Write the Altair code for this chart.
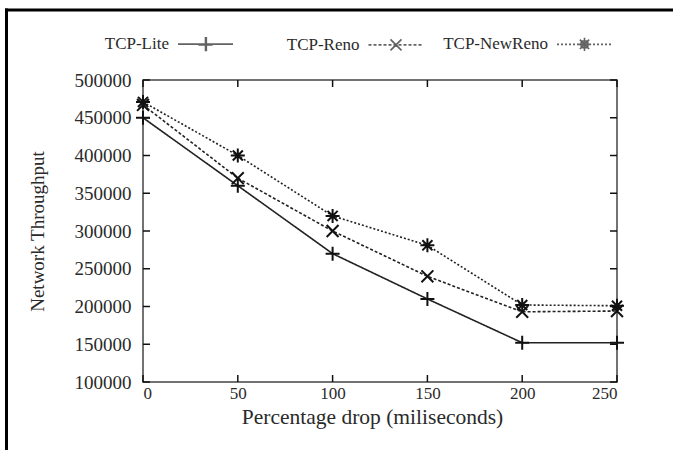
import altair as alt
import pandas as pd

x_vals = [0, 50, 100, 150, 200, 250]
series_names = ["TCP-Lite", "TCP-Reno", "TCP-NewReno"]
lite = [450000, 360000, 270000, 210000, 152000, 152000]
reno = [467000, 370000, 300000, 240000, 193000, 194000]
newreno = [471000, 400000, 320000, 281000, 202000, 201000]
x_ticks = [0, 50, 100, 150, 200, 250]
y_ticks = [100000, 150000, 200000, 250000, 300000, 350000, 400000, 450000, 500000]

marker_names = ["m:" + s for s in series_names]
rows = []
for name, mname, vals in zip(series_names, marker_names, [lite, reno, newreno]):
    for xv, yv in zip(x_vals, vals):
        rows.append({"drop": xv, "thr": yv, "series": name, "marker": mname})
df = pd.DataFrame(rows)
xt_df = pd.DataFrame({"t": x_ticks})
yt_df = pd.DataFrame({"t": y_ticks})

FONT = "Liberation Serif"
TXT = "#2a2a2a"
W, H = 474, 302

# plot marker shapes (unit box)
plus_p = "M-1,0H1M0,-1V1"
cross_p = "M-0.85,-0.85L0.85,0.85M-0.85,0.85L0.85,-0.85"
star_p = "M-1,0H1M0,-1V1M-0.72,-0.72L0.72,0.72M-0.72,0.72L0.72,-0.72"


# legend samples: line + marker, in units of the symbol radius (27.5 px)
def dashed(on, off):
    segs, x = [], -1.0
    while x < 1.0:
        segs.append("M%.3f,0H%.3f" % (x, min(x + on, 1.0)))
        x += on + off
    return "".join(segs)


EXT = "M-5.2,0"  # invisible extent so every legend entry has the same width
u = 1 / 27.5
leg_lite = EXT + "M-1,0H1" + "M-0.26,0H0.26M0,-0.26V0.26M-0.26,0.03H0.26M0.03,-0.26V0.26"
leg_reno = EXT + dashed(3 * u, 2 * u) + "M-0.2,-0.2L0.2,0.2M-0.2,0.2L0.2,-0.2"
leg_new = EXT + dashed(2 * u, 2 * u) + (
    "M-0.24,0H0.24M0,-0.24V0.24M-0.17,-0.17L0.17,0.17M-0.17,0.17L0.17,-0.17"
    "M-0.12,-0.12L0.12,-0.12L0.12,0.12L-0.12,0.12Z")

xscale = alt.Scale(domain=[0, 250], nice=False)
yscale = alt.Scale(domain=[100000, 500000], nice=False)

common_axis = dict(
    domain=False, ticks=False, tickSize=0, grid=False,
    labelFont=FONT, labelColor=TXT,
    titleFont=FONT, titleColor=TXT, titleFontWeight="normal",
)

lines = alt.Chart(df).mark_line(color="#222", strokeWidth=1.6).encode(
    x=alt.X("drop:Q", scale=xscale, axis=alt.Axis(
        values=x_ticks, title="Percentage drop (miliseconds)", labelPadding=3,
        labelFontSize=17, titleFontSize=21.5, titleX=229, titleY=24,
        titleBaseline="top", orient="bottom", **common_axis)),
    y=alt.Y("thr:Q", scale=yscale, axis=alt.Axis(
        values=y_ticks, title="Network Throughput", labelPadding=12, format="d",
        labelFontSize=19, titleFontSize=19, titlePadding=27,
        orient="left", **common_axis)),
    strokeDash=alt.StrokeDash("series:N",
        scale=alt.Scale(domain=series_names, range=[[1, 0], [3, 2], [2, 2]]),
        legend=None),
    order="drop:Q",
)

points = alt.Chart(df).mark_point(color="#111", filled=False, strokeWidth=2, size=196, opacity=1).encode(
    x=alt.X("drop:Q", scale=xscale, axis=None),
    y=alt.Y("thr:Q", scale=yscale, axis=None),
    shape=alt.Shape("marker:N",
        scale=alt.Scale(domain=marker_names, range=[plus_p, cross_p, star_p]),
        legend=None),
)

legend_layer = alt.Chart(df).mark_point(color="#111", filled=False).encode(
    x=alt.X("drop:Q", scale=xscale, axis=None),
    y=alt.Y("thr:Q", scale=yscale, axis=None),
    shape=alt.Shape("series:N",
        scale=alt.Scale(domain=series_names, range=[leg_lite, leg_reno, leg_new]),
        legend=alt.Legend(
            orient="none", direction="horizontal", legendX=34, legendY=-64.5,
            title=None, labelFont=FONT, labelFontSize=17, labelColor=TXT,
            labelAlign="right", labelOffset={"expr": "-65"}, symbolSize=3025,
            columnPadding=12.5, labelLimit=300, symbolStrokeWidth=1.6,
            symbolStrokeColor="#222", symbolFillColor="transparent")),
).transform_filter("false")

tick_style = dict(color="#111", strokeWidth=1.5)
ytick_l = alt.Chart(yt_df).mark_rule(**tick_style).encode(
    y=alt.Y("t:Q", scale=yscale, axis=None), x=alt.value(0), x2=alt.value(7))
ytick_r = alt.Chart(yt_df).mark_rule(**tick_style).encode(
    y=alt.Y("t:Q", scale=yscale, axis=None), x=alt.value(W - 7), x2=alt.value(W))
xtick_b = alt.Chart(xt_df).mark_rule(**tick_style).encode(
    x=alt.X("t:Q", scale=xscale, axis=None), y=alt.value(H - 7), y2=alt.value(H))
xtick_t = alt.Chart(xt_df).mark_rule(**tick_style).encode(
    x=alt.X("t:Q", scale=xscale, axis=None), y=alt.value(0), y2=alt.value(7))

frame_df = pd.DataFrame({"k": [0]})
frame_left = alt.Chart(frame_df).mark_rule(color="#000", strokeWidth=3).encode(
    x=alt.value(-136.5), y=alt.value(-71.5), y2=alt.value(400))
frame_top = alt.Chart(frame_df).mark_rule(color="#000", strokeWidth=3).encode(
    x=alt.value(-138), x2=alt.value(600), y=alt.value(-70))

chart = alt.layer(
    lines, points, legend_layer, ytick_l, ytick_r, xtick_b, xtick_t, frame_left, frame_top
).resolve_axis(
    x="independent", y="independent"
).resolve_scale(
    shape="independent"
).properties(
    width=W, height=H, autosize="none",
    padding={"left": 143, "top": 80, "right": 56, "bottom": 68},
    background="white",
).configure_view(stroke="#444", strokeWidth=1.5)

chart.save("out.html", embed_options={"renderer": "svg", "actions": False})
